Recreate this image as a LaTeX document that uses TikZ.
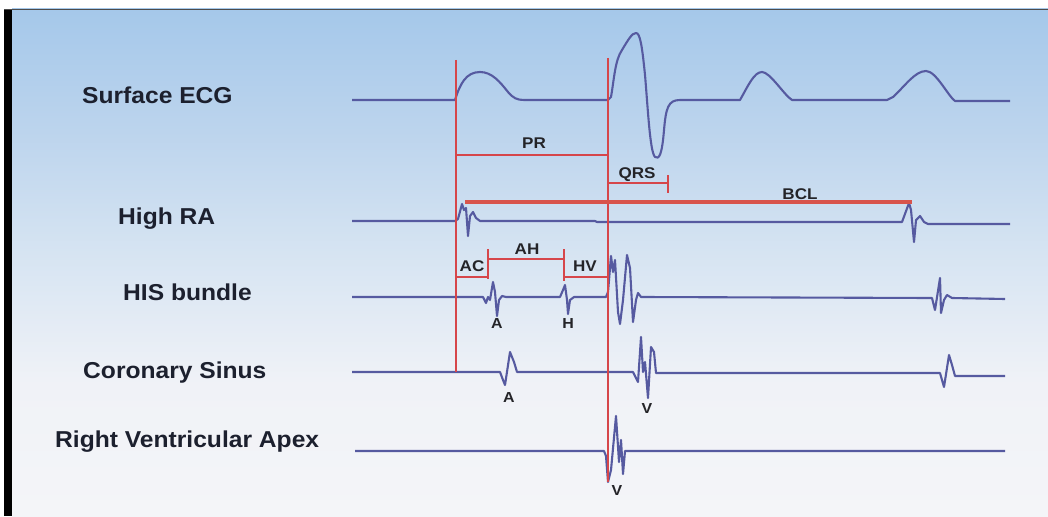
\documentclass[tikz,border=0pt]{standalone}
\usepackage{fontspec}
\setmainfont{Liberation Sans}
\newfontfamily\lblfont[FakeStretch=1.07]{Liberation Sans}
\newfontfamily\smlfont[FakeStretch=1.1]{Liberation Sans}
\definecolor{trace}{RGB}{86,90,160}
\definecolor{redl}{RGB}{214,70,74}
\definecolor{redbar}{RGB}{216,84,76}
\definecolor{lblc}{RGB}{28,32,46}
\definecolor{smlc}{RGB}{36,36,40}
\definecolor{bgA}{RGB}{165,200,234}
\definecolor{bgB}{RGB}{188,212,237}
\definecolor{bgC}{RGB}{214,228,242}
\definecolor{bgD}{RGB}{240,242,247}
\definecolor{bgE}{RGB}{244,245,248}
\pgfdeclareverticalshading{bgshade}{100bp}{color(0bp)=(bgE); color(25bp)=(bgE); color(38bp)=(bgD); color(51bp)=(bgC); color(63bp)=(bgB); color(75bp)=(bgA); color(100bp)=(bgA)}
\begin{document}
\begin{tikzpicture}[x=1pt,y=-1pt,
  tracel/.style={draw=trace,line width=2.1pt,line join=round},
  redv/.style={draw=redl,line width=2pt},
  redb/.style={draw=redl,line width=2.6pt},
  bigl/.style={anchor=base west,inner sep=0pt,font=\fontsize{23}{26}\lblfont\bfseries,text=lblc},
  smll/.style={anchor=base,inner sep=0pt,font=\fontsize{15.5}{17}\smlfont\bfseries,text=smlc},
  ltr/.style={anchor=base,inner sep=0pt,font=\fontsize{14.5}{16}\smlfont\bfseries,text=smlc}]
\useasboundingbox (0,0) rectangle (1048,516);
\fill[white] (0,0) rectangle (1048,516);
\shade[shading=bgshade] (12,9) rectangle (1048,516);
\fill[black] (4,9) rectangle (12,516);
\draw[black!70,line width=0.8pt] (4,9.4) -- (1048,9.4);

% row labels
\node[bigl] (lecg) at (82,103) {Surface ECG};
\node[bigl] (lhra) at (118,224) {High RA};
\node[bigl] (lhis) at (123,300) {HIS bundle};
\node[bigl] (lcs) at (83,378) {Coronary Sinus};
\node[bigl] (lrva) at (55,447) {Right Ventricular Apex};

% Surface ECG
\draw[tracel] (352,100) -- (455,100) .. controls (460,84) and (466,72) .. (480,72)
  .. controls (492,72) and (500,82) .. (508,92) .. controls (513,98) and (517,100) .. (524,100)
  -- (608,100) -- (611,97) .. controls (614,80) and (615,60) .. (622,50)
  .. controls (628,40) and (632,33) .. (636,33) .. controls (640,33) and (642,45) .. (645,75)
  .. controls (648,110) and (650,152) .. (655,157) .. controls (659,160) and (662,155) .. (664,130)
  .. controls (666,108) and (668,100) .. (680,100) -- (740,100)
  .. controls (748,86) and (754,72) .. (762,72) .. controls (770,72) and (784,95) .. (792,100)
  -- (887,100) -- (893,97) .. controls (905,86) and (915,71) .. (926,71)
  .. controls (936,71) and (948,96) .. (955,101) -- (1010,101);

% High RA
\draw[tracel] (352,221) -- (455,221) -- (458,219) -- (462,204) -- (464,210) -- (466,208)
  -- (468,236) -- (470,216) -- (473,212) -- (476,218) -- (480,221) -- (595,221) -- (597,222)
  -- (902,222) -- (909,203) -- (911,210) -- (914,242) -- (916,220) -- (920,216) -- (924,222)
  -- (928,224) -- (1010,224);

% HIS bundle
\draw[tracel] (352,297) -- (483,297) -- (486,303) -- (488,297) -- (490,300) -- (493,282)
  -- (495,292) -- (497,316) -- (499,300) -- (502,296) -- (506,297) -- (560,297) -- (563,290)
  -- (565,285) -- (567,300) -- (568,314) -- (570,300) -- (574,297) -- (606,297) -- (608,292)
  -- (611,256) -- (613,272) -- (615,260) -- (618,312) -- (620,324) -- (623,300) -- (627,255)
  -- (630,268) -- (633,322) -- (636,300) -- (638,293) -- (641,297) -- (932,298) -- (935,310)
  -- (940,278) -- (941,313) -- (944,300) -- (947,295) -- (952,298) -- (1005,299);

% Coronary sinus
\draw[tracel] (352,372) -- (500,372) -- (503,380) -- (505,385) -- (510,352) -- (514,362)
  -- (517,372) -- (633,372) -- (636,378) -- (638,382) -- (641,337) -- (643,372) -- (645,362)
  -- (648,398) -- (651,347) -- (654,352) -- (656,373) -- (940,373) -- (944,387) -- (949,355)
  -- (952,365) -- (955,376) -- (1005,376);

% Right ventricular apex
\draw[tracel] (355,451) -- (604,451) -- (606,456) -- (608,482) -- (611,470) -- (616,416)
  -- (619,462) -- (621,440) -- (623,474) -- (625,451) -- (1005,451);

% interval markers
\coordinate (vLt) at (456,60);
\coordinate (vLb) at (456,372);
\coordinate (vRt) at (608,58);
\coordinate (vRb) at (608,482);
\draw[redv] (vLt) -- (vLb);
\draw[redv] (vRt) -- (vRb);

\coordinate (prA) at (456,155);
\coordinate (prB) at (607,155);
\draw[redb] (prA) -- (prB);
\node[smll] (tpr) at (534,148) {PR};

\coordinate (qrsA) at (608,183);
\coordinate (qrsB) at (668,183);
\coordinate (qrsT1) at (668,175);
\coordinate (qrsT2) at (668,193);
\draw[redb,line width=2pt] (qrsA) -- (qrsB);
\draw[redv] (qrsT1) -- (qrsT2);
\node[smll] (tqrs) at (637,178) {QRS};

\coordinate (bclA) at (465,202);
\coordinate (bclB) at (912,202);
\draw[draw=redbar,line width=3.2pt] (bclA) -- (bclB);
\node[smll] (tbcl) at (800,199) {BCL};

\coordinate (acA) at (456,277);
\coordinate (acB) at (488,277);
\coordinate (t1a) at (488,249);
\coordinate (t1b) at (488,279);
\coordinate (ahA) at (488,259);
\coordinate (ahB) at (564,259);
\coordinate (t2a) at (564,249);
\coordinate (t2b) at (564,281);
\coordinate (hvA) at (564,277);
\coordinate (hvB) at (607,277);
\draw[redb] (acA) -- (acB);
\draw[redv] (t1a) -- (t1b);
\draw[redb] (ahA) -- (ahB);
\draw[redv] (t2a) -- (t2b);
\draw[redb] (hvA) -- (hvB);
\node[smll] (tac) at (472,271) {AC};
\node[smll] (tah) at (527,254) {AH};
\node[smll] (thv) at (585,271) {HV};

% deflection letters
\node[ltr] (hisA) at (497,328) {A};
\node[ltr] (hisH) at (568,328) {H};
\node[ltr] (csA) at (509,402) {A};
\node[ltr] (csV) at (647,413) {V};
\node[ltr] (rvV) at (617,495) {V};
\end{tikzpicture}
\end{document}
